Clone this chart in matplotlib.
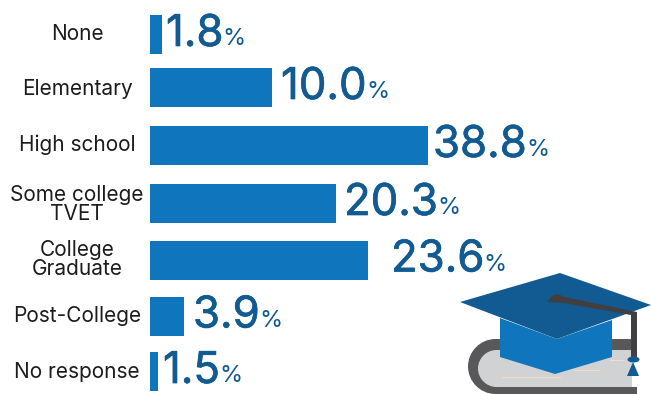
import numpy as np
import matplotlib
matplotlib.use("Agg")
import matplotlib.pyplot as plt
import matplotlib.patheffects as pe
from matplotlib.patches import PathPatch, Polygon, Ellipse
from matplotlib.path import Path

categories = ["None", "Elementary", "High school", "Some college\nTVET",
              "College\nGraduate", "Post-College", "No response"]
shares = [1.8, 10.0, 38.8, 20.3, 23.6, 3.9, 1.5]

# the bar axis is not linear: it is stretched between these knots (share -> px from baseline)
scale_shares = [0, 1.5, 1.8, 3.9, 10.0, 20.3, 23.6, 38.8]
scale_px = [0, 8, 12, 34, 122, 186, 218, 278]

# layout, in pixels of the 651x394 canvas
bar_centers = [34.5, 87.5, 145.5, 203.5, 260, 316, 371.5]
label_centers = [32, 86.5, 143, 202.5, 258, 313.5, 369.5]
label_gaps = [4, 9, 5, 8, 23, 9, 5]

BAR_BLUE = "#0f75bc"
DARK_BLUE = "#115b92"
GREY = "#58585a"
CORD = "#404042"
PAGE = "#d1d2d4"
TAN = "#f3dcc4"

plt.rcParams["font.family"] = ["Inter", "DejaVu Sans"]


def forward(x):
    return np.interp(x, scale_shares, scale_px)


def inverse(x):
    return np.interp(x, scale_px, scale_shares)


fig = plt.figure(figsize=(6.51, 3.94), dpi=100)
ax = fig.add_axes([150 / 651, 0, 278 / 651, 1])
ax.set_xscale("function", functions=(forward, inverse))
ax.barh(bar_centers, shares, height=39, color=BAR_BLUE)
ax.set_xlim(0, 38.8)
ax.set_ylim(394, 0)
for s in ax.spines.values():
    s.set_visible(False)
ax.set_xticks([])
ax.xaxis.set_minor_locator(matplotlib.ticker.NullLocator())
ax.set_yticks(label_centers, categories)
ax.tick_params(axis="y", length=0, pad=52.5, labelsize=15, labelcolor="#1c1c1c")
for t in ax.get_yticklabels():
    t.set_ha("center")
    t.set_linespacing(0.95)

# value labels, the % sign hangs off the end of the number
heavier = [pe.withStroke(linewidth=0.5, foreground=DARK_BLUE)]
for y, v, gap in zip(bar_centers, shares, label_gaps):
    num = ax.annotate("%.1f" % v, xy=(v, y), xytext=(gap * 0.72, 0), textcoords="offset points",
                      ha="left", va="center", fontsize=31.5, color=DARK_BLUE,
                      annotation_clip=False, path_effects=heavier)
    ax.annotate("%", xy=(1, 0), xycoords=num, xytext=(-0.5, 3.5), textcoords="offset points",
                ha="left", va="bottom", fontsize=17, color=DARK_BLUE)

# graduation cap on a book, drawn on a pixel overlay
icon = fig.add_axes([0, 0, 1, 1], zorder=3)
icon.set_xlim(0, 651)
icon.set_ylim(394, 0)
icon.axis("off")


def book_shape(left, right, top, bottom):
    r = (bottom - top) / 2
    k = 0.55 * r
    mid = (top + bottom) / 2
    verts = [(right, top), (left + r, top),
             (left + r - k, top), (left, mid - k), (left, mid),
             (left, mid + k), (left + r - k, bottom), (left + r, bottom),
             (right, bottom), (right, top)]
    codes = [Path.MOVETO, Path.LINETO, Path.CURVE4, Path.CURVE4, Path.CURVE4,
             Path.CURVE4, Path.CURVE4, Path.CURVE4, Path.LINETO, Path.CLOSEPOLY]
    return Path(verts, codes)


icon.add_patch(PathPatch(book_shape(468, 637, 339, 394), fc=GREY, ec="none"))
icon.add_patch(PathPatch(book_shape(478, 632, 350, 387), fc=PAGE, ec="none"))
icon.add_patch(Polygon([(632, 339), (637, 339), (637, 387), (632, 387)], fc="white", ec="none"))
icon.plot([502, 560], [377, 377], color=TAN, lw=0.8)
icon.plot([573, 599], [370, 370], color=TAN, lw=0.8)
icon.plot([610, 624], [360, 360], color=TAN, lw=0.8)

icon.add_patch(Polygon([(500, 318), (557, 339), (612, 320), (612, 357), (555, 374), (500, 357)],
                       fc=BAR_BLUE, ec="none"))
icon.add_patch(Polygon([(460, 302), (560, 273), (651, 305), (557, 339)], fc=DARK_BLUE, ec="none"))
icon.add_patch(Polygon([(547, 302), (552, 296), (558, 294), (565, 297), (637, 312), (637, 358),
                        (631, 358), (631, 315), (563, 303)], fc=CORD, ec="none"))
icon.add_patch(Ellipse((633.5, 359.5), 12, 6, fc=DARK_BLUE, ec="none"))
icon.add_patch(Polygon([(633, 362), (639, 376), (627, 376)], fc=DARK_BLUE, ec="none"))

fig.savefig("out.png", dpi=100)
